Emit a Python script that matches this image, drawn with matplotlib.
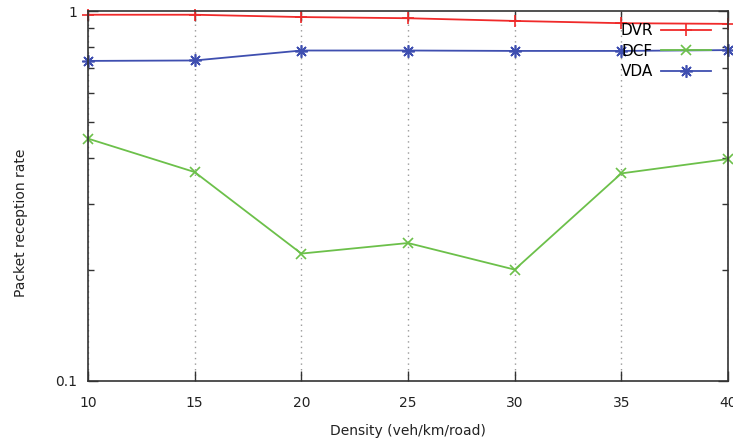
import matplotlib
matplotlib.use("Agg")
import matplotlib.pyplot as plt
from matplotlib.ticker import LogLocator, NullFormatter

# Density values (veh/km/road)
density = [10, 15, 20, 25, 30, 35, 40]

# Packet reception rate per protocol
dvr = [0.977, 0.977, 0.963, 0.956, 0.940, 0.927, 0.923]
dcf = [0.452, 0.367, 0.221, 0.236, 0.200, 0.364, 0.398]
vda = [0.733, 0.735, 0.782, 0.782, 0.780, 0.780, 0.784]

plt.rcParams['font.family'] = ['DejaVu Sans']
plt.rcParams['font.size'] = 10

fig = plt.figure(figsize=(7.33, 4.46), dpi=100)
ax = fig.add_axes([88 / 733, 65 / 446, 640 / 733, 370 / 446])

ax.plot(density, dvr, color='#f02a2a', lw=1.3, marker='+', ms=9, mew=1.2, label='DVR', clip_on=False)
ax.plot(density, dcf, color='#6cc04a', lw=1.3, marker='x', ms=7, mew=1.2, label='DCF', clip_on=False)
ax.plot(density, vda, color='#3f4fb0', lw=1.3, marker=(8, 2, 0), ms=9, mew=1.2, label='VDA', clip_on=False)

ax.set_yscale('log')
ax.set_ylim(0.1, 1)
ax.set_xlim(10, 40)
ax.set_xticks(density)
ax.set_yticks([0.1, 1])
ax.set_yticklabels(['0.1', '1'])
ax.yaxis.set_minor_locator(LogLocator(base=10, subs=[0.2, 0.3, 0.4, 0.5, 0.6, 0.7, 0.8, 0.9]))
ax.yaxis.set_minor_formatter(NullFormatter())

ax.tick_params(which='major', direction='in', length=7, width=1, top=True, right=True,
               color='#333333', labelcolor='#222222')
ax.tick_params(axis='x', which='major', pad=11)
ax.tick_params(axis='y', which='major', pad=8)
ax.tick_params(which='minor', direction='in', length=4, width=1, right=True, color='#333333')
ax.tick_params(axis='x', which='minor', bottom=False, top=False)

for s in ax.spines.values():
    s.set_color('#333333')
    s.set_linewidth(1.2)

ax.xaxis.grid(True, which='major', color='#999999', linestyle=(0, (1, 3)), lw=1)
ax.set_axisbelow(True)

ax.set_xlabel('Density (veh/km/road)', color='#222222')
ax.xaxis.set_label_coords(408 / 733, 1 - 424 / 446, transform=fig.transFigure)
ax.set_ylabel('Packet reception rate', color='#222222')
ax.yaxis.set_label_coords(28 / 733, 0.5, transform=fig.transFigure)

ax.legend(loc='upper right', bbox_to_anchor=(711 / 733, 1 - 23 / 446), bbox_transform=fig.transFigure,
          frameon=False, markerfirst=False, handlelength=3.3, handletextpad=0.5,
          labelspacing=0.36, borderpad=0, borderaxespad=0, numpoints=1, fontsize=11)

fig.savefig('out.png', dpi=100)
